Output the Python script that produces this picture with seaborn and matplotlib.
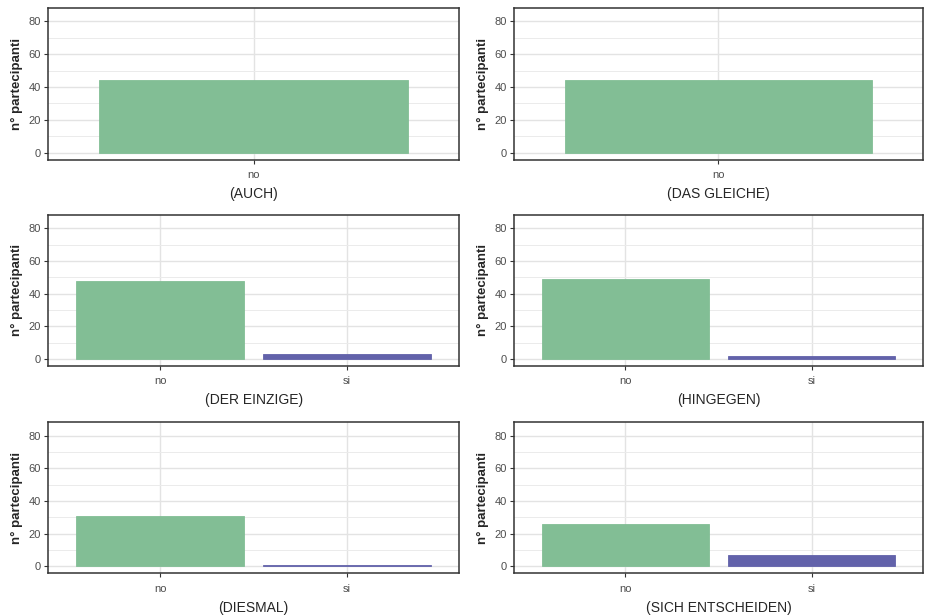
import seaborn as sns
import pandas as pd
import matplotlib.pyplot as plt
from matplotlib.ticker import MultipleLocator

# Data
words = ["(AUCH)", "(DAS GLEICHE)", "(DER EINZIGE)", "(HINGEGEN)", "(DIESMAL)", "(SICH ENTSCHEIDEN)"]
answers = [["no"], ["no"], ["no", "si"], ["no", "si"], ["no", "si"], ["no", "si"]]
counts = [[44], [44], [48, 3], [49, 2], [31, 1], [26, 7]]

y_label = "n° partecipanti"
y_ticks = [0, 20, 40, 60, 80]
palette = {"no": "#82BE95", "si": "#6262AA"}

sns.set_style("white")
plt.rcParams['font.family'] = ['Liberation Sans', 'DejaVu Sans']

fig = plt.figure(figsize=(9.25, 6.15), dpi=100)

# panel boxes (left, bottom, width, height) in figure fractions
col_left = [0.052, 0.5555]
col_width = [0.4443, 0.4425]
row_bottom = [0.7403, 0.4054, 0.0678]
row_height = [0.2472, 0.2450, 0.2455]

for i, (word, ans, cnt) in enumerate(zip(words, answers, counts)):
    r, c = divmod(i, 2)
    ax = fig.add_axes([col_left[c], row_bottom[r], col_width[c], row_height[r]])
    df = pd.DataFrame({"risposta": ans, "n": cnt})
    sns.barplot(data=df, x="risposta", y="n", hue="risposta", order=ans,
                palette=palette, saturation=1, width=0.9, linewidth=0,
                legend=False, ax=ax)
    # thin outline in the bar colour so the 1-count bars stay visible
    for p in ax.patches:
        p.set_edgecolor(p.get_facecolor())
        p.set_linewidth(0.6)
    ax.set_xlim(-0.6, len(ans) - 0.4)
    ax.set_ylim(-4.2, 88.2)
    ax.set_yticks(y_ticks)
    ax.yaxis.set_minor_locator(MultipleLocator(10))
    ax.set_axisbelow(True)
    ax.grid(which="major", color="#E3E3E3", linewidth=1.0)
    ax.grid(which="minor", axis="y", color="#EBEBEB", linewidth=0.7)
    ax.tick_params(axis="both", which="major", length=3, width=0.8, color="#333333",
                   labelsize=8, labelcolor="#4D4D4D", pad=4.5, bottom=True, left=True)
    ax.tick_params(axis="y", which="major", pad=2)
    ax.tick_params(axis="y", which="minor", length=0)
    for s in ax.spines.values():
        s.set_color("#333333")
        s.set_linewidth(1.1)
    ax.set_ylabel(y_label, fontsize=9.5, fontweight="bold", labelpad=4)
    ax.set_xlabel(word, fontsize=10, labelpad=5)

fig.savefig("out.png", dpi=100)
plt.close()
